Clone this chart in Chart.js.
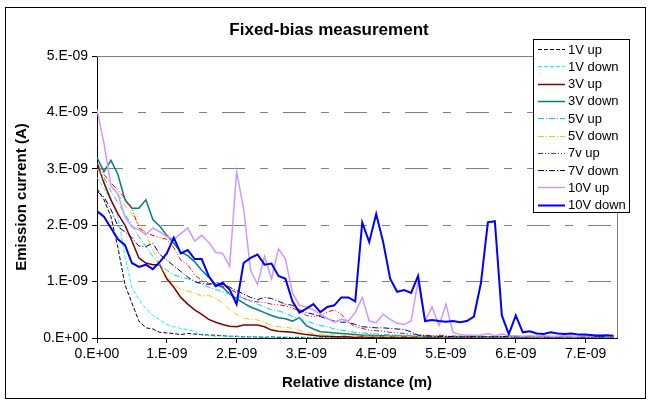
<!DOCTYPE html>
<html>
<head>
<meta charset="utf-8">
<script src="https://cdn.jsdelivr.net/npm/chart.js@4/dist/chart.umd.min.js"></script>
<style>
  html, body { margin: 0; padding: 0; background: #fff; }
</style>
</head>
<body>
<canvas id="biasChart" width="651" height="405"></canvas>
<script>
// distance in units of 1e-9 m, current in units of 1e-9 A
const distance = [
  0.0,0.1,0.2,0.3,0.4,0.5,0.6,0.7,0.8,0.9,
  1.0,1.1,1.2,1.3,1.4,1.5,1.6,1.7,1.8,1.9,
  2.0,2.1,2.2,2.3,2.4,2.5,2.6,2.7,2.8,2.9,
  3.0,3.1,3.2,3.3,3.4,3.5,3.6,3.7,3.8,3.9,
  4.0,4.1,4.2,4.3,4.4,4.5,4.6,4.7,4.8,4.9,
  5.0,5.1,5.2,5.3,5.4,5.5,5.6,5.7,5.8,5.9,
  6.0,6.1,6.2,6.3,6.4,6.5,6.6,6.7,6.8,6.9,
  7.0,7.1,7.2,7.3,7.4
];

const up1V = [
  2.65,2.45,2.15,1.60,0.95,0.62,0.30,0.18,0.16,0.10,
  0.09,0.08,0.06,0.08,0.07,0.06,0.05,0.05,0.04,0.03,
  0.03,0.02,0.02,0.02,0.01,0.02,0.01,0.01,0.01,0.01,
  0.01,0.01,0.00,0.01,0.01,0.00,0.01,0.01,0.00,0.01,
  0.01,0.00,0.01,0.01,0.00,0.01,0.00,0.01,0.01,0.00,
  0.01,0.01,0.00,0.01,0.00,0.01,0.01,0.00,0.01,0.00,
  0.01,0.00,0.01,0.01,0.00,0.01,0.00,0.01,0.00,0.01,
  0.00,0.01,0.01,0.00,0.01
];
const down1V = [
  2.85,2.65,2.45,2.15,1.45,0.90,0.68,0.52,0.40,0.32,
  0.24,0.20,0.17,0.15,0.12,0.05,0.04,0.03,0.04,0.03,
  0.03,0.02,0.03,0.02,0.02,0.01,0.02,0.02,0.01,0.02,
  0.01,0.01,0.02,0.01,0.01,0.02,0.01,0.01,0.02,0.01,
  0.01,0.02,0.01,0.01,0.01,0.02,0.01,0.01,0.02,0.01,
  0.01,0.01,0.02,0.01,0.01,0.02,0.01,0.01,0.01,0.02,
  0.01,0.01,0.02,0.01,0.01,0.01,0.02,0.01,0.01,0.02,
  0.01,0.01,0.01,0.02,0.01
];
const up3V = [
  3.10,2.75,2.45,2.20,2.00,1.72,1.42,1.33,1.30,1.30,
  1.05,0.90,0.72,0.60,0.50,0.42,0.33,0.28,0.24,0.21,
  0.20,0.23,0.23,0.23,0.20,0.14,0.12,0.11,0.10,0.08,
  0.06,0.05,0.03,0.03,0.02,0.02,0.02,0.01,0.02,0.01,
  0.02,0.01,0.01,0.02,0.01,0.02,0.01,0.01,0.02,0.01,
  0.01,0.02,0.01,0.01,0.01,0.02,0.01,0.01,0.02,0.01,
  0.01,0.01,0.02,0.01,0.01,0.02,0.01,0.01,0.01,0.02,
  0.01,0.01,0.02,0.01,0.01
];
const down3V = [
  3.20,2.95,3.15,2.90,2.45,2.30,2.30,2.45,2.10,1.98,
  1.82,1.68,1.52,1.46,1.35,1.20,1.08,0.95,0.90,0.78,
  0.70,0.62,0.55,0.50,0.45,0.40,0.36,0.34,0.30,0.36,
  0.22,0.16,0.11,0.10,0.09,0.08,0.07,0.06,0.05,0.05,
  0.04,0.04,0.03,0.04,0.03,0.03,0.02,0.03,0.02,0.02,
  0.02,0.02,0.01,0.02,0.02,0.01,0.02,0.01,0.02,0.01,
  0.01,0.02,0.01,0.01,0.02,0.01,0.01,0.01,0.02,0.01,
  0.01,0.01,0.02,0.01,0.01
];
const up5V = [
  3.00,2.85,2.60,2.40,2.20,2.00,1.80,1.62,1.45,1.30,
  1.20,1.12,1.08,1.05,1.00,0.95,0.90,0.86,0.82,0.78,
  0.74,0.70,0.66,0.60,0.55,0.50,0.48,0.44,0.38,0.34,
  0.30,0.26,0.22,0.20,0.16,0.14,0.12,0.10,0.09,0.08,
  0.07,0.06,0.06,0.05,0.05,0.04,0.04,0.03,0.03,0.03,
  0.02,0.03,0.02,0.02,0.03,0.02,0.02,0.02,0.03,0.02,
  0.02,0.02,0.01,0.02,0.02,0.01,0.02,0.02,0.01,0.02,
  0.02,0.01,0.02,0.01,0.02
];
const down5V = [
  3.00,2.80,2.70,2.55,2.35,2.20,2.00,1.85,1.55,1.30,
  1.10,0.95,0.86,0.83,0.80,0.74,0.76,0.70,0.62,0.50,
  0.42,0.35,0.33,0.32,0.28,0.22,0.20,0.19,0.17,0.14,
  0.10,0.08,0.07,0.06,0.05,0.05,0.04,0.04,0.03,0.04,
  0.03,0.03,0.02,0.03,0.02,0.03,0.02,0.02,0.03,0.02,
  0.02,0.02,0.03,0.02,0.02,0.02,0.01,0.02,0.02,0.01,
  0.02,0.02,0.01,0.02,0.01,0.02,0.02,0.01,0.02,0.01,
  0.02,0.01,0.02,0.02,0.01
];
const up7V = [
  3.10,2.90,2.75,2.62,2.48,2.30,1.95,1.87,1.82,1.78,
  1.75,1.60,1.38,1.30,1.12,1.02,0.97,0.94,0.92,0.87,
  0.80,0.70,0.66,0.64,0.63,0.60,0.59,0.57,0.53,0.48,
  0.40,0.38,0.40,0.46,0.50,0.42,0.28,0.20,0.17,0.14,
  0.13,0.12,0.10,0.09,0.08,0.07,0.06,0.05,0.04,0.05,
  0.04,0.03,0.04,0.03,0.03,0.04,0.02,0.03,0.03,0.02,
  0.03,0.02,0.02,0.03,0.02,0.02,0.02,0.03,0.02,0.02,
  0.02,0.02,0.03,0.02,0.02
];
const down7V = [
  2.60,2.50,2.28,1.98,1.88,1.78,1.63,1.62,1.68,1.48,
  1.38,1.28,1.18,1.08,1.00,0.97,0.95,0.98,0.96,0.90,
  0.84,0.78,0.72,0.68,0.72,0.70,0.65,0.60,0.58,0.50,
  0.45,0.42,0.38,0.34,0.30,0.28,0.28,0.24,0.20,0.19,
  0.18,0.18,0.17,0.16,0.15,0.11,0.05,0.04,0.03,0.03,
  0.02,0.03,0.02,0.02,0.03,0.02,0.02,0.02,0.03,0.02,
  0.02,0.02,0.02,0.03,0.02,0.02,0.02,0.02,0.03,0.02,
  0.02,0.02,0.02,0.03,0.02
];
const up10V = [
  4.05,3.45,2.70,2.55,2.15,1.97,1.92,1.83,1.95,1.88,
  1.80,1.75,1.85,1.95,1.72,1.82,1.70,1.52,1.50,1.27,
  2.95,2.30,1.20,0.95,1.45,1.05,1.58,1.40,0.80,0.58,
  0.55,0.50,0.42,0.35,0.28,0.33,0.30,0.45,0.72,0.30,
  0.27,0.42,0.33,0.26,0.24,0.30,1.00,0.30,0.55,0.22,
  0.60,0.10,0.06,0.05,0.05,0.05,0.08,0.04,0.07,0.04,
  0.04,0.03,0.04,0.03,0.04,0.03,0.03,0.04,0.03,0.03,
  0.04,0.03,0.06,0.03,0.03
];
const down10V = [
  2.25,2.15,1.95,1.75,1.65,1.33,1.26,1.30,1.22,1.35,
  1.50,1.78,1.50,1.56,1.40,1.40,1.10,0.92,0.98,0.86,
  0.60,1.33,1.42,1.48,1.30,1.32,1.10,1.05,0.65,0.45,
  0.52,0.60,0.46,0.55,0.58,0.72,0.72,0.65,2.05,1.70,
  2.20,1.70,1.05,0.82,0.85,0.80,1.10,0.30,0.32,0.30,
  0.29,0.30,0.28,0.30,0.38,0.97,2.05,2.07,0.40,0.07,
  0.40,0.10,0.12,0.08,0.07,0.10,0.08,0.07,0.08,0.06,
  0.06,0.05,0.04,0.05,0.04
];

const seriesNames = ['1V up', '1V down', '3V up', '3V down', '5V up', '5V down', '7v up', '7V down', '10V up', '10V down'];
const seriesValues = [up1V, down1V, up3V, down3V, up5V, down5V, up7V, down7V, up10V, down10V];

// line styles, Excel-like
const seriesColors = ['#000000', '#00FFFF', '#800000', '#008080', '#00CCFF', '#FFC000', '#FF0000', '#000080', '#CC99FF', '#0000FF'];
const seriesDashes = [[4, 2], [4, 2], [], [], [6, 2, 1, 2], [6, 2, 1, 2], [5, 2, 1, 2, 1, 2], [6, 2, 1, 2], [], []];
const seriesWidths = [1, 1, 1.5, 1.5, 1, 1, 1, 1, 1.5, 2];

const FONT = "'Liberation Sans', Arial, sans-serif";

const sciLabel = v => (v === 0 ? '0.E+00' : Math.round(v) + '.E-09');

const decorations = {
  id: 'decorations',
  beforeDraw(chart) {
    const ctx = chart.ctx;
    ctx.save();
    ctx.fillStyle = '#fff';
    ctx.fillRect(0, 0, chart.width, chart.height);
    ctx.restore();
  },
  afterDraw(chart) {
    const { ctx, chartArea: a } = chart;
    ctx.save();

    // plot area frame (top / right)
    ctx.strokeStyle = '#808080';
    ctx.lineWidth = 1;
    ctx.beginPath();
    ctx.moveTo(a.left, a.top + 0.5);
    ctx.lineTo(a.right + 0.5, a.top + 0.5);
    ctx.lineTo(a.right + 0.5, a.bottom);
    ctx.stroke();

    // outer chart border
    ctx.strokeStyle = '#000';
    ctx.strokeRect(5.5, 7.5, 640, 391);

    // titles
    ctx.fillStyle = '#000';
    ctx.textAlign = 'center';
    ctx.textBaseline = 'middle';
    ctx.font = 'bold 17px ' + FONT;
    ctx.fillText('Fixed-bias measurement', 329, 30);
    ctx.font = 'bold 15px ' + FONT;
    ctx.fillText('Relative distance (m)', (a.left + a.right) / 2, 383);
    ctx.save();
    ctx.translate(22, (a.top + a.bottom) / 2);
    ctx.rotate(-Math.PI / 2);
    ctx.fillText('Emission current (A)', 0, 0);
    ctx.restore();

    // legend box
    const lx = 533, ly = 39, lw = 96, lh = 173;
    ctx.fillStyle = '#fff';
    ctx.fillRect(lx, ly, lw, lh);
    ctx.strokeStyle = '#000';
    ctx.strokeRect(lx + 0.5, ly + 0.5, lw, lh);
    ctx.font = '13px ' + FONT;
    ctx.textAlign = 'left';
    chart.data.datasets.forEach((ds, i) => {
      const y = ly + 10 + i * 17.3;
      ctx.save();
      ctx.strokeStyle = ds.borderColor;
      ctx.lineWidth = ds.borderWidth;
      ctx.setLineDash(ds.borderDash);
      ctx.beginPath();
      ctx.moveTo(lx + 5, Math.round(y) + 0.5);
      ctx.lineTo(lx + 32, Math.round(y) + 0.5);
      ctx.stroke();
      ctx.restore();
      ctx.fillStyle = '#000';
      ctx.fillText(ds.label, lx + 35, y + 1);
    });
    ctx.restore();
  }
};

const datasets = seriesNames.map((name, i) => ({
  label: name,
  data: seriesValues[i],
  borderColor: seriesColors[i],
  borderWidth: seriesWidths[i],
  borderDash: seriesDashes[i],
  pointRadius: 0,
  tension: 0,
  fill: false,
  order: seriesNames.length - i,
}));

new Chart(document.getElementById('biasChart').getContext('2d'), {
  type: 'line',
  data: { labels: distance, datasets: datasets },
  options: {
    responsive: false,
    animation: false,
    devicePixelRatio: 1,
    layout: { padding: { left: 10, top: 56, right: 34, bottom: 10 } },
    plugins: {
      legend: { display: false },
      title: { display: false },
      tooltip: { enabled: false },
    },
    scales: {
      x: {
        type: 'linear',
        min: 0,
        max: 7.45,
        afterFit: s => { s.height = 57; },
        ticks: {
          stepSize: 1,
          includeBounds: false,
          maxRotation: 0,
          padding: 3,
          color: '#000',
          font: { family: FONT, size: 14 },
          callback: sciLabel,
        },
        grid: { drawOnChartArea: false, drawTicks: true, tickLength: 5, tickColor: '#000' },
        border: { color: '#000', width: 1 },
      },
      y: {
        min: 0,
        max: 5,
        afterFit: s => { s.width = 87; },
        ticks: {
          stepSize: 1,
          padding: 4,
          color: '#000',
          font: { family: FONT, size: 14 },
          callback: sciLabel,
        },
        grid: { color: '#808080', lineWidth: 1, tickLength: 5, tickColor: '#000' },
        border: { color: '#000', width: 1, dash: [23, 15, 8, 15], dashOffset: 59 },
      },
    },
  },
  plugins: [decorations],
});
</script>
</body>
</html>
